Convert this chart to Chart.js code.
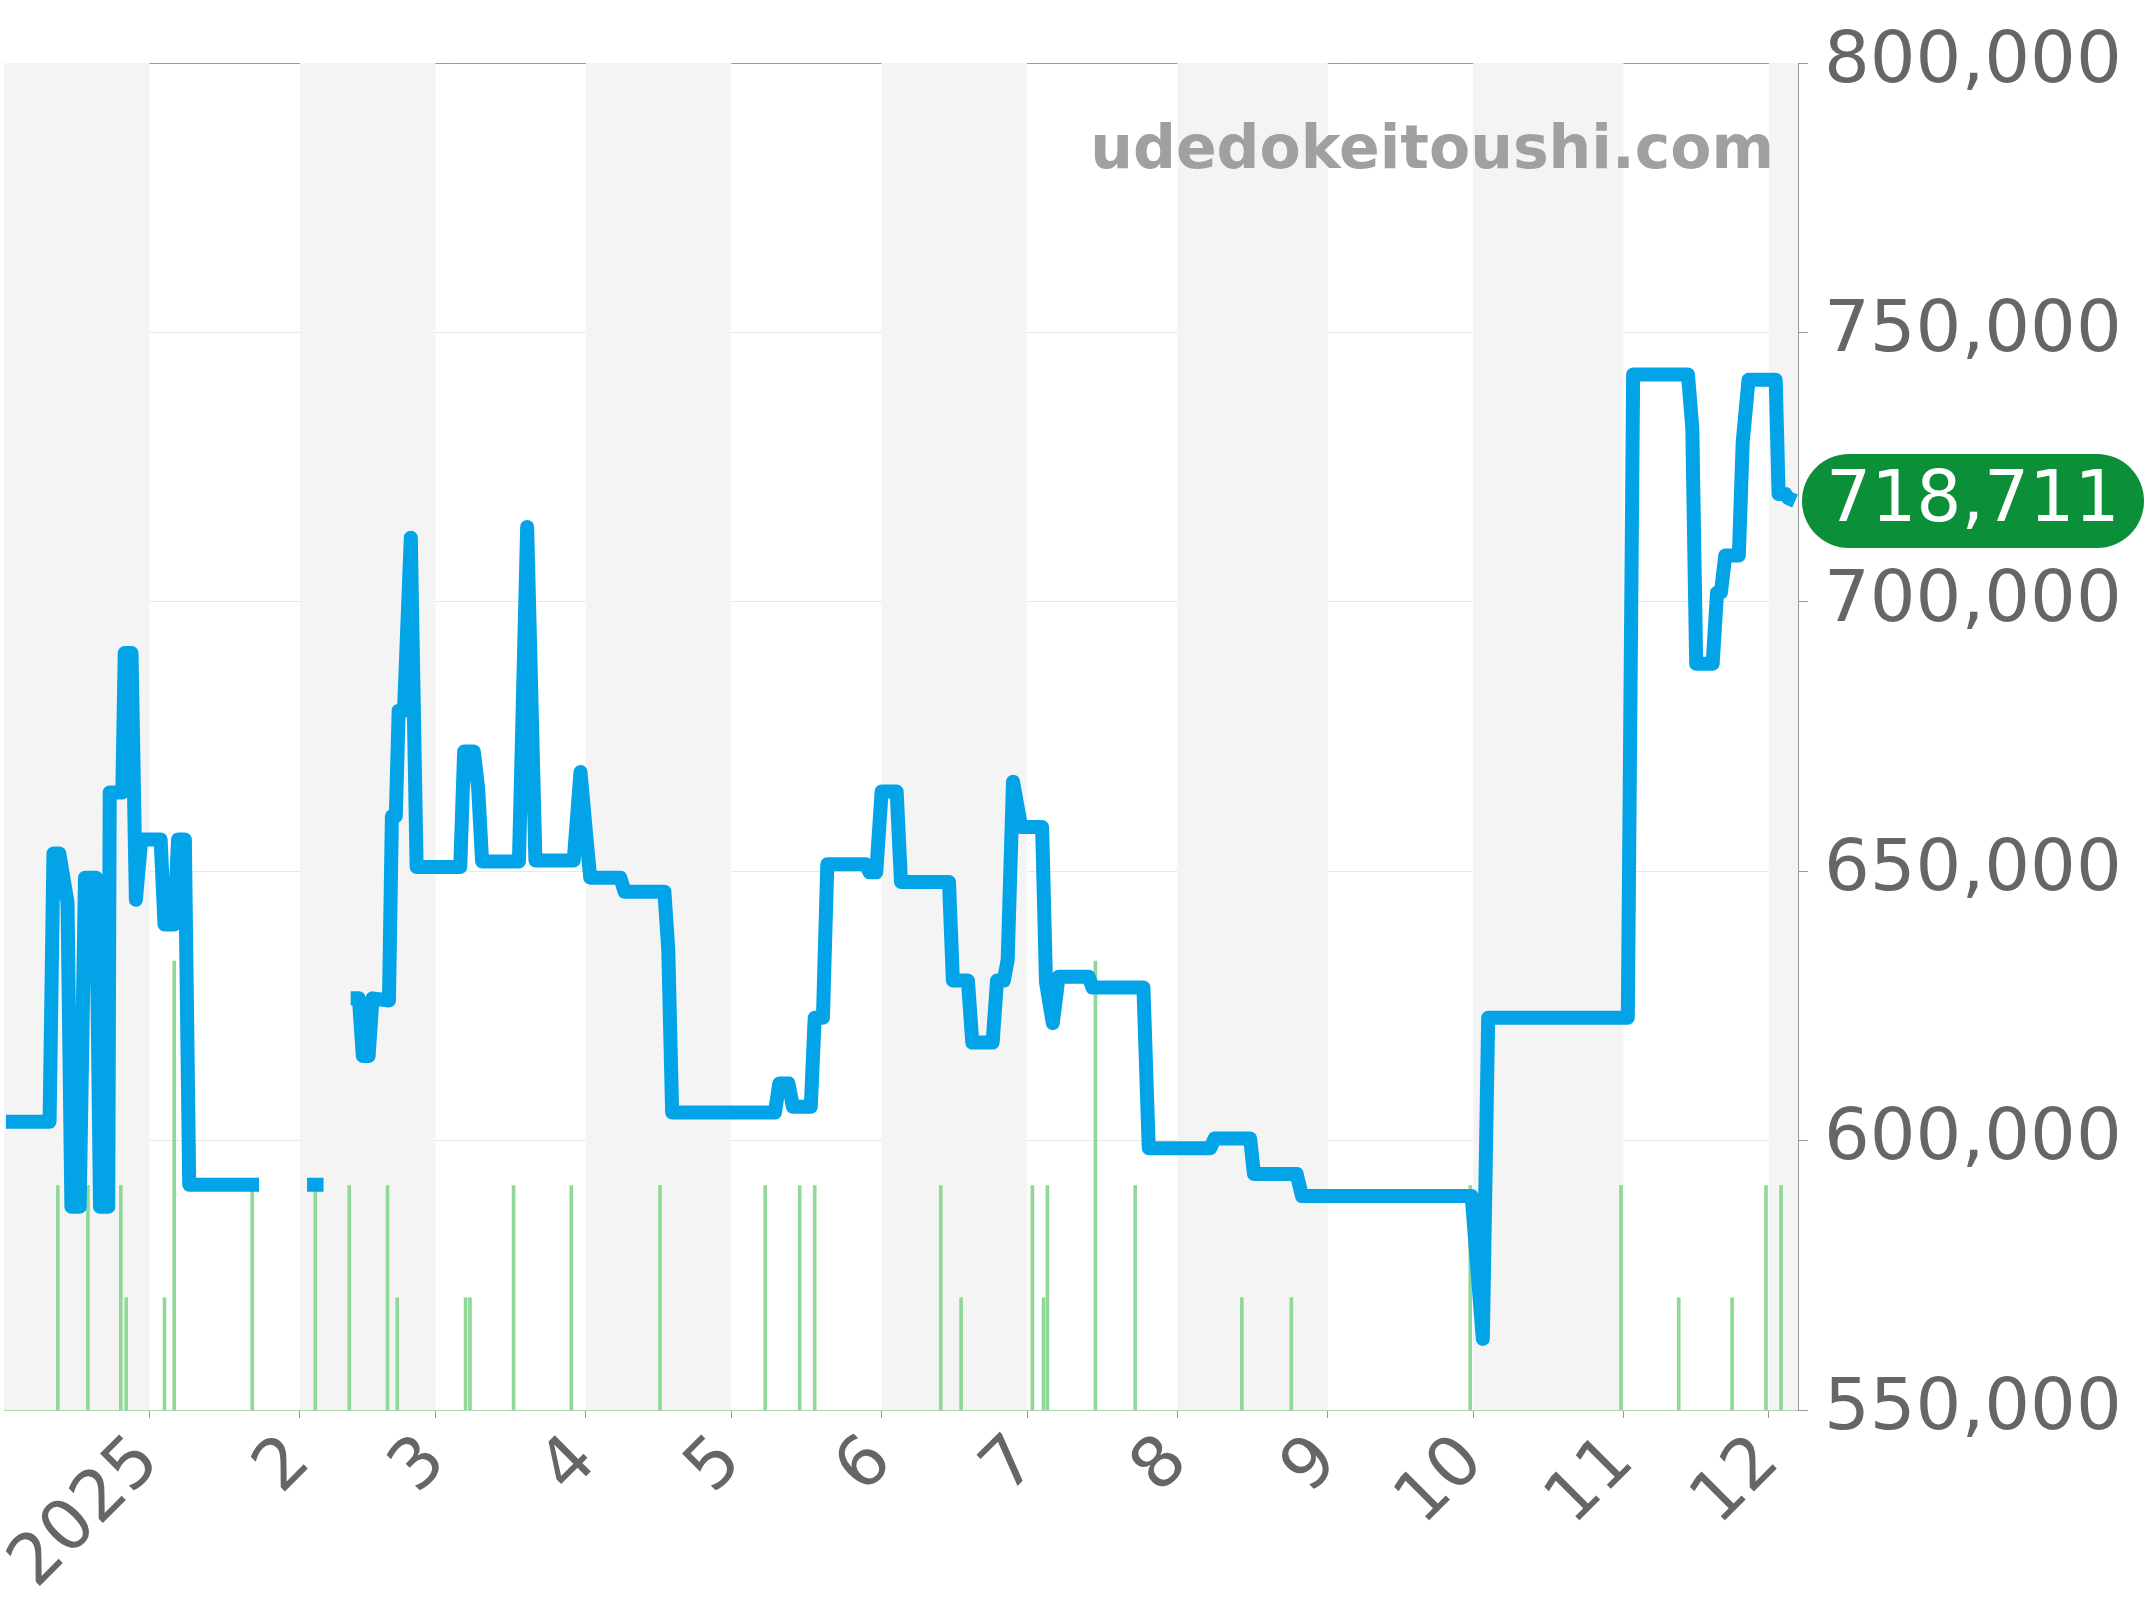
<!DOCTYPE html>
<html>
<head>
<meta charset="utf-8">
<script src="https://cdn.jsdelivr.net/npm/chart.js@4/dist/chart.umd.min.js"></script>
<style>
body { margin: 0; background: #fff; }
#wrap { width: 2144px; height: 1600px; }
</style>
</head>
<body>
<div id="wrap"><canvas id="chart"></canvas></div>
<script>
// days counted from 2025-01-01
var month_starts = [0, 31, 59, 90, 120, 151, 181, 212, 243, 273, 304, 334];
var month_labels = ["2025", "2", "3", "4", "5", "6", "7", "8", "9", "10", "11", "12"];
var band_edges = [-30, 0, 31, 59, 90, 120, 151, 181, 212, 243, 273, 304, 334, 340];

var price_days = [-29.6, -20.6, -19.8, -18.6, -16.9, -16.1, -14.4, -13.3, -11.0, -10.2, -8.5, -8.2, -5.6, -5.1, -3.7, -2.8, -1.7, 2.3, 3.1, 5.1, 5.9, 7.3, 8.2, 22.6, 28,
    32.5, 35.9, 38,
    41.5, 43.2, 44.0, 45.2, 46.0, 49.4, 50.0, 50.8, 51.4, 52.5, 53.9, 55.1, 64.1, 64.9, 66.9, 67.8, 68.6, 76.2, 77.9, 79.6, 87.5, 88.9, 90.1, 90.9, 97.1, 98.0,
    106.2, 107.0, 107.8, 129.0, 129.9, 131.8, 132.7, 136.4, 137.2, 138.9, 139.8, 147.7, 148.5, 149.9, 151.0, 154.1, 155.0, 164.9, 165.7, 168.8, 169.7, 173.9,
    174.8, 176.2, 177.0, 178.1, 179.8, 184.1, 184.9, 186.3, 187.5, 193.7, 194.5, 205.0, 206.1, 218.8, 219.7, 227.0, 227.8, 236.6, 237.7, 272.7, 275.0, 276.1,
    304.9, 306.0, 317.3, 318.2, 319.0, 322.4, 323.3, 324.1, 325.0, 327.8, 328.6, 329.8, 335.4, 336.0, 337.4, 337.9, 339.4];
var price_values = [603500, 603500, 653300, 653300, 644200, 587700, 587700, 648800, 648800, 587700, 587700, 664600, 664600, 690500, 690500, 644700, 655900, 655900, 640100, 640100, 655900, 655900, 591800, 591800, null,
    591800, 591800, null,
    626400, 626400, 615700, 615700, 626400, 626000, 660200, 660200, 679800, 679800, 711900, 650800, 650800, 672200, 672200, 665300, 651800, 651800, 713900, 652000, 652000, 668400, 656400, 648800, 648800, 646200,
    646200, 635500, 605200, 605200, 610600, 610600, 606300, 606300, 622800, 622800, 651300, 651300, 649800, 649800, 664800, 664800, 648000, 648000, 629700, 629700, 618200, 618200,
    629700, 629700, 633500, 666600, 658200, 658200, 629400, 621800, 630400, 630400, 628400, 628400, 598600, 598600, 600400, 600400, 593800, 593800, 589700, 589700, 563200, 622800,
    622800, 742200, 742200, 732300, 688500, 688500, 701700, 701700, 708600, 708600, 729700, 741200, 741200, 720000, 720000, 719300, 718711];

var volume_days = [-18.9, -12.7, -5.9, 21.2, 34.2, 41.2, 49.1, 75.1, 87.0, 105.3, 127.0, 134.1, 137.2, 163.2, 182.1, 185.2, 203.3, 272.4, 303.5, 333.4, 336.5,
    -4.8, 3.1, 51.1, 65.2, 66.1, 167.4, 184.4, 225.3, 235.5, 315.4, 326.4,
    5.1, 195.1];
var volume_values = [2, 2, 2, 2, 2, 2, 2, 2, 2, 2, 2, 2, 2, 2, 2, 2, 2, 2, 2, 2, 2,
    1, 1, 1, 1, 1, 1, 1, 1, 1, 1, 1,
    4, 4];

var last_price = 718711;

var price_data = price_days.map(function(d, i) { return { x: d, y: price_values[i] }; });
var volume_data = volume_days.map(function(d, i) { return { x: d, y: volume_values[i] }; });

var bandPlugin = {
    id: "bands",
    beforeDatasetsDraw: function(chart) {
        var ctx = chart.ctx, xs = chart.scales.x, area = chart.chartArea;
        ctx.save();
        ctx.fillStyle = "#f4f4f4";
        for (var i = 0; i < band_edges.length - 1; i += 2) {
            var a = xs.getPixelForValue(band_edges[i]);
            var b = xs.getPixelForValue(band_edges[i + 1]);
            ctx.fillRect(a, area.top, b - a, area.bottom - area.top);
        }
        ctx.restore();
    }
};

var overlayPlugin = {
    id: "overlay",
    afterDraw: function(chart) {
        var ctx = chart.ctx, area = chart.chartArea, ys = chart.scales.y;
        ctx.save();
        ctx.font = "bold 60px 'DejaVu Sans'";
        ctx.fillStyle = "#a0a0a0";
        ctx.textAlign = "right";
        ctx.textBaseline = "middle";
        ctx.fillText("udedokeitoushi.com", area.right - 24, 152);
        var y = ys.getPixelForValue(last_price);
        var x0 = area.right + 4, h = 94, r = 47;
        ctx.fillStyle = "#0b8f38";
        ctx.beginPath();
        ctx.moveTo(x0 + r, y - h / 2);
        ctx.lineTo(2144 - r, y - h / 2);
        ctx.arc(2144 - r, y, r, -Math.PI / 2, Math.PI / 2);
        ctx.lineTo(x0 + r, y + h / 2);
        ctx.arc(x0 + r, y, r, Math.PI / 2, Math.PI * 1.5);
        ctx.fill();
        ctx.fillStyle = "#fff";
        ctx.font = "71px 'DejaVu Sans'";
        ctx.textAlign = "left";
        ctx.fillText(last_price.toLocaleString("en-US"), area.right + 28, y + 2);
        ctx.restore();
    }
};

var ctx = document.getElementById("chart").getContext("2d");
var myChart = new Chart(ctx, {
    data: {
        datasets: [{
                type: "line",
                data: price_data,
                borderColor: "#03a3e8",
                borderWidth: 14,
                pointRadius: 0,
                spanGaps: false,
                borderJoinStyle: "round",
                borderCapStyle: "butt",
                yAxisID: "y",
                order: 1,
            },
            {
                type: "bar",
                data: volume_data,
                backgroundColor: "#8fd896",
                barThickness: 3,
                yAxisID: "y2",
                order: 2,
            },
        ],
    },
    options: {
        responsive: true,
        maintainAspectRatio: false,
        animation: false,
        layout: { padding: { left: 4, top: 63, right: 0, bottom: 0 } },
        plugins: { legend: { display: false }, tooltip: { enabled: false } },
        scales: {
            x: {
                type: "linear",
                offset: false,
                min: -30,
                max: 340,
                afterBuildTicks: function(axis) {
                    axis.ticks = month_starts.map(function(v) { return { value: v }; });
                },
                afterFit: function(axis) { axis.height = 190; },
                ticks: {
                    autoSkip: false,
                    maxRotation: 45,
                    minRotation: 45,
                    color: "#666",
                    font: { size: 70, family: "DejaVu Sans" },
                    callback: function(v) {
                        var i = month_starts.indexOf(v);
                        return i >= 0 ? month_labels[i] : "";
                    },
                },
                grid: { display: true, offset: false, drawOnChartArea: false, tickLength: 8, color: "#999" },
                border: { color: "#b0d8b0" },
            },
            y: {
                position: "right",
                min: 550000,
                max: 800000,
                afterFit: function(axis) { axis.width = 346; },
                ticks: {
                    stepSize: 50000,
                    color: "#666",
                    font: { size: 72, family: "DejaVu Sans" },
                    padding: 16,
                    callback: function(v) { return v.toLocaleString("en-US"); },
                },
                grid: {
                    color: function(c) { return c.tick && c.tick.value === 800000 ? "#999" : "#e8e8e8"; },
                    tickLength: 10,
                    tickColor: "#999",
                },
                border: { color: "#999" },
            },
            y2: {
                display: false,
                min: 0,
                max: 12,
            },
        },
    },
    plugins: [bandPlugin, overlayPlugin],
});
</script>
</body>
</html>
